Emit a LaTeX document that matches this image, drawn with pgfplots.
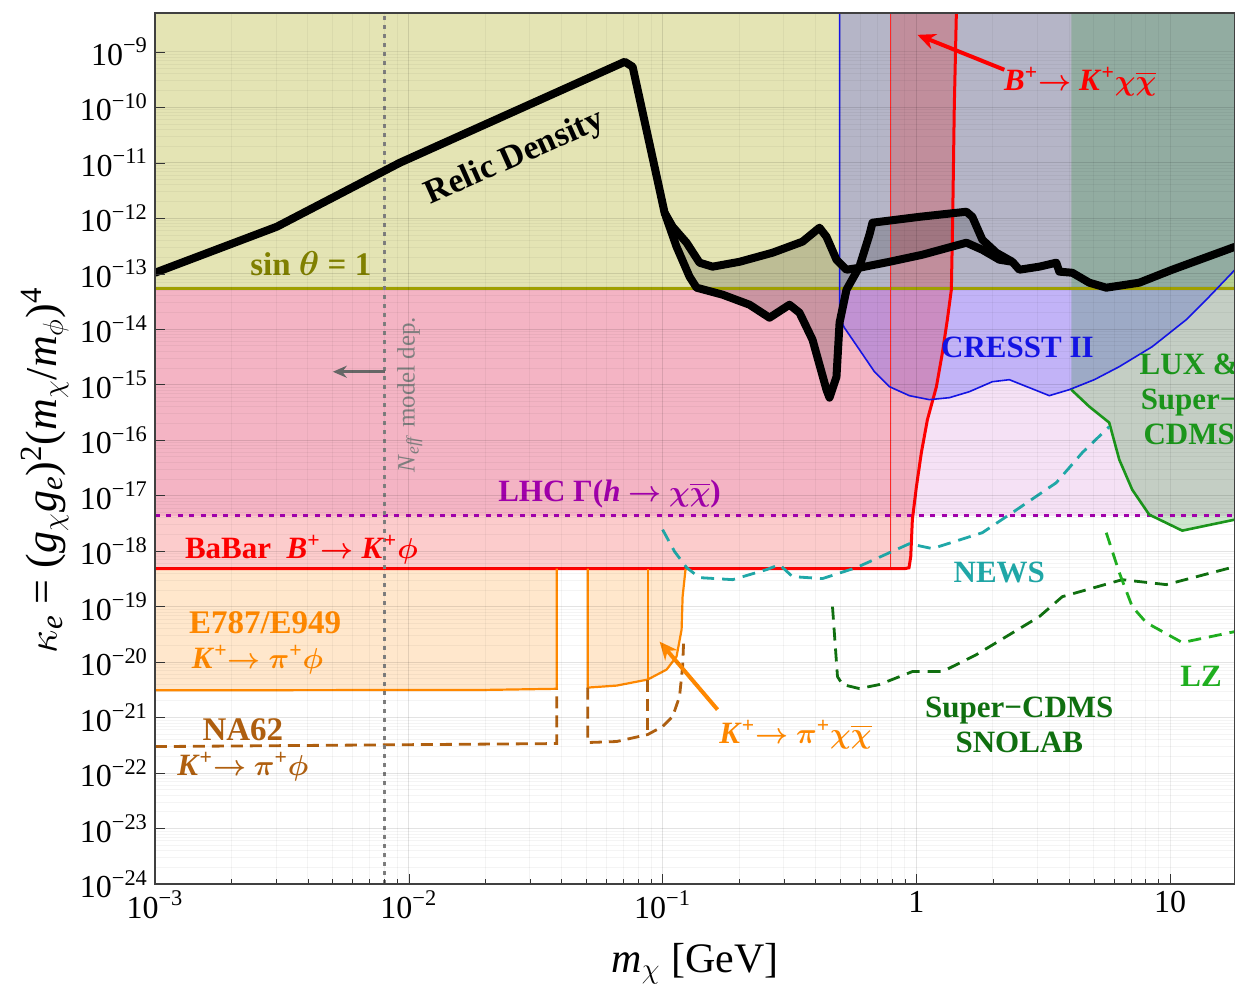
\documentclass[border=0pt]{standalone}
\usepackage{amsmath}
\usepackage{fontspec}
\setmainfont{Liberation Serif}
\usepackage{pgfplots}
\pgfplotsset{compat=1.18}
\usetikzlibrary{arrows.meta}
\definecolor{lhcfill}{RGB}{245,225,245}
\definecolor{yel}{RGB}{228,228,180}
\definecolor{olive2}{RGB}{160,160,0}
\definecolor{olivetext}{RGB}{128,128,0}
\definecolor{cblue}{RGB}{50,50,255}
\definecolor{cline}{RGB}{20,20,230}
\definecolor{orng}{RGB}{255,136,0}
\definecolor{brwn}{RGB}{176,96,16}
\definecolor{teal2}{RGB}{32,168,168}
\definecolor{dgreen}{RGB}{16,112,16}
\definecolor{lgreen}{RGB}{32,176,32}
\definecolor{purp}{RGB}{160,0,170}
\definecolor{redd}{RGB}{240,0,0}
\newcommand{\lab}{\fontsize{15.5}{17.5}\selectfont\bfseries}
\newcommand{\bs}[1]{$\boldsymbol{#1}$}
\newcommand{\arr}{$\boldsymbol{\rightarrow}$}
\newcommand{\chib}{$\boldsymbol{\chi}\overline{\boldsymbol{\chi}}$}
\begin{document}
\begin{tikzpicture}
\path[use as bounding box] (-77.5pt,-50pt) rectangle (540pt,442pt);
\begin{axis}[
  at={(0,0)}, anchor=south west,
  scale only axis, width=540pt, height=435.5pt,
  xmode=log, ymode=log,
  xmin=1e-3, xmax=18, ymin=1e-24, ymax=5e-9,
  axis on top,
  xtick={1e-3,1e-2,1e-1,1,10},
  xticklabels={10\textsuperscript{−3},10\textsuperscript{−2},10\textsuperscript{−1},1,10},
  ytick={1e-24,1e-23,1e-22,1e-21,1e-20,1e-19,1e-18,1e-17,1e-16,1e-15,1e-14,1e-13,1e-12,1e-11,1e-10,1e-9},
  yticklabels={10\textsuperscript{−24},10\textsuperscript{−23},10\textsuperscript{−22},10\textsuperscript{−21},10\textsuperscript{−20},10\textsuperscript{−19},10\textsuperscript{−18},10\textsuperscript{−17},10\textsuperscript{−16},10\textsuperscript{−15},10\textsuperscript{−14},10\textsuperscript{−13},10\textsuperscript{−12},10\textsuperscript{−11},10\textsuperscript{−10},10\textsuperscript{−9}},
  yminorticks=false,
  xtick pos=bottom, ytick pos=left,
  major tick length=5pt, minor tick length=2.5pt,
  tick style={black!80},
  axis line style={black!75, line width=0.6pt},
  grid=both, major grid style={black, opacity=0.07}, minor grid style={black, opacity=0.045},
  ticklabel style={font=\fontsize{16}{16}\selectfont},
  xlabel={\textit{m}\textsubscript{$\chi$} [GeV]},
  ylabel={$\kappa$\textsubscript{\textit{e}} = (\textit{g}\textsubscript{$\chi$}\textit{g}\textsubscript{\textit{e}})\textsuperscript{2}(\textit{m}\textsubscript{$\chi$}/\textit{m}\textsubscript{$\phi$})\textsuperscript{4}},
  xlabel style={font=\fontsize{21}{23}\selectfont, at={(axis description cs:0.5,-0.06)}, anchor=north},
  ylabel style={font=\fontsize{22}{24}\selectfont, at={(axis description cs:-0.102,0.475)}, anchor=center},
]
% LHC region
\addplot[draw=none, fill=lhcfill] coordinates {(1e-3,4.37e-18) (18,4.37e-18) (18,5e-9) (1e-3,5e-9)} -- cycle;
% BaBar B->K phi region
\addplot[draw=none, fill=redd, fill opacity=0.2] coordinates {(1e-3,4.84e-19) (0.79,4.84e-19) (0.79,5e-9) (1e-3,5e-9)} -- cycle;
% E787/E949 regions
\addplot[draw=none, fill=orng, fill opacity=0.2] coordinates {(1e-3,3.1e-21) (0.02,3.15e-21) (0.0383,3.3e-21) (0.0383,4.84e-19) (1e-3,4.84e-19)} -- cycle;
\addplot[draw=none, fill=orng, fill opacity=0.2] coordinates {(0.0507,3.47e-21) (0.0659,3.77e-21) (0.0873,4.84e-21) (0.1037,7.33e-21) (0.1135,1.26e-20) (0.1188,3.85e-20) (0.1199,1.51e-19) (0.1232,4.84e-19) (0.0507,4.84e-19)} -- cycle;
% sin theta = 1 region
\addplot[draw=none, fill=yel] coordinates {(1e-3,5.37e-14) (18,5.37e-14) (18,5e-9) (1e-3,5e-9)} -- cycle;
% CRESST II region
\addplot[draw=none, fill=cblue, fill opacity=0.26] coordinates {(0.498,5e-9) (0.498,1.61e-14) (0.5206,1.06e-14) (0.5965,4.27e-15) (0.6834,1.71e-15) (0.7829,9.2e-16) (0.938,6.34e-16) (1.125,5.37e-16) (1.349,5.83e-16) (1.617,7.48e-16) (1.991,1.13e-15) (2.323,1.23e-15) (2.786,8.83e-16) (3.339,6.34e-16) (4.004,8.13e-16) (5.022,1.23e-15) (6.298,2.11e-15) (8.494,4.84e-15) (11.56,1.48e-14) (14.24,3.85e-14) (18,1.18e-13) (18,5e-9)} -- cycle;
% B -> K chi chibar strip
\addplot[draw=none, fill=redd, fill opacity=0.21] coordinates {(0.79,4.84e-19) (0.90,4.84e-19) (0.935,5.0e-19) (0.95,8e-19) (0.964,3.7e-18) (1.0,1.45e-17) (1.046,5.96e-17) (1.105,2.34e-16) (1.199,9.2e-16) (1.266,3.78e-15) (1.324,1.48e-14) (1.373,5.15e-14) (1.39,1e-12) (1.41,1e-10) (1.437,5e-9) (0.79,5e-9)} -- cycle;
% LUX & SuperCDMS region
\addplot[draw=none, fill=lgreen!80!black, fill opacity=0.22] coordinates {(4.076,5e-9) (4.076,8.13e-16) (4.80,4.02e-16) (5.75,2.07e-16) (6.30,4.45e-17) (7.085,1.28e-17) (8.265,4.55e-18) (11.15,2.34e-18) (18,3.7e-18) (18,5e-9)} -- cycle;
% relic density band shading
\addplot[draw=none, fill=black, fill opacity=0.17] coordinates {(0.1018,1.26e-12) (0.1095,7.03e-13) (0.1243,3.62e-13) (0.1398,1.58e-13) (0.1574,1.34e-13) (0.2009,1.64e-13) (0.2711,2.39e-13) (0.3557,3.78e-13) (0.4150,6.75e-13) (0.4421,4.65e-13) (0.4842,1.79e-13) (0.5302,1.18e-13) (0.5965,1.28e-13) (0.7829,1.64e-13) (1.056,2.2e-13) (1.574,3.62e-13) (1.819,2.7e-13) (2.122,1.79e-13) (2.388,1.64e-13) (2.065,2.39e-13) (1.819,4.1e-13) (1.661,1.06e-12) (1.574,1.31e-12) (1.028,1.06e-12) (0.6712,8.3e-13) (0.6531,5.05e-13) (0.5965,1.34e-13) (0.5302,5.15e-14) (0.498,1.31e-14) (0.4842,1.39e-15) (0.4545,5.83e-16) (0.4421,8.13e-16) (0.3897,6.47e-15) (0.3463,1.98e-14) (0.3162,2.76e-14) (0.2638,1.61e-14) (0.2201,2.76e-14) (0.1723,4.19e-14) (0.1361,5.6e-14) (0.1277,8.83e-14) (0.1135,3.06e-13)} -- cycle;
% boundary lines
\addplot[olive2, line width=1.5pt] coordinates {(1e-3,5.37e-14) (18,5.37e-14)};
\addplot[purp, line width=1.6pt, dash pattern=on 2.5pt off 3.2pt] coordinates {(1e-3,4.37e-18) (18,4.37e-18)};
\addplot[red!85!white, line width=0.5pt] coordinates {(0.79,5.0e-19) (0.79,5e-9)};
\addplot[red, line width=1.5pt] coordinates {(1e-3,4.84e-19) (0.90,4.84e-19) (0.935,5.0e-19) (0.95,8e-19) (0.964,3.7e-18) (1.0,1.45e-17) (1.046,5.96e-17) (1.105,2.34e-16) (1.199,9.2e-16) (1.266,3.78e-15) (1.324,1.48e-14) (1.373,5.15e-14) (1.39,1e-12) (1.41,1e-10) (1.437,5e-9)};
\addplot[cline, line width=0.8pt] coordinates {(0.498,5e-9) (0.498,1.61e-14) (0.5206,1.06e-14) (0.5965,4.27e-15) (0.6834,1.71e-15) (0.7829,9.2e-16) (0.938,6.34e-16) (1.125,5.37e-16) (1.349,5.83e-16) (1.617,7.48e-16) (1.991,1.13e-15) (2.323,1.23e-15) (2.786,8.83e-16) (3.339,6.34e-16) (4.004,8.13e-16) (5.022,1.23e-15) (6.298,2.11e-15) (8.494,4.84e-15) (11.56,1.48e-14) (14.24,3.85e-14) (18,1.18e-13)};
\addplot[lgreen!85!black, line width=1.3pt] coordinates {(4.076,8.13e-16) (4.80,4.02e-16) (5.75,2.07e-16) (6.30,4.45e-17) (7.085,1.28e-17) (8.265,4.55e-18) (11.15,2.34e-18) (18,3.7e-18)};
% E787 / E949 lines
\addplot[orng, line width=1.1pt] coordinates {(1e-3,3.1e-21) (0.02,3.15e-21) (0.0383,3.3e-21) (0.0383,4.84e-19)};
\addplot[orng, line width=1.1pt] coordinates {(0.0507,4.84e-19) (0.0507,3.47e-21) (0.0659,3.77e-21) (0.0873,4.84e-21) (0.1037,7.33e-21) (0.1135,1.26e-20) (0.1188,3.85e-20) (0.1199,1.51e-19) (0.1232,4.84e-19)};
\addplot[orng, line width=1.1pt] coordinates {(0.0873,4.84e-21) (0.0873,4.84e-19)};
% NA62 projections
\addplot[brwn, line width=1.4pt, dash pattern=on 6pt off 3.5pt] coordinates {(1e-3,3.0e-22) (0.0383,3.4e-22) (0.0383,3.3e-21)};
\addplot[brwn, line width=1.4pt, dash pattern=on 6pt off 3.5pt] coordinates {(0.0507,3.47e-21) (0.0507,3.55e-22) (0.0659,3.7e-22) (0.0873,4.94e-22) (0.1,6.89e-22) (0.1095,1.04e-21) (0.1166,2.39e-21) (0.1199,8.3e-21) (0.121,2.25e-20)};
\addplot[brwn, line width=1.4pt, dash pattern=on 6pt off 3.5pt] coordinates {(0.0873,4.84e-21) (0.0873,4.94e-22)};
% NEWS
\addplot[teal2, line width=1.4pt, dash pattern=on 6.5pt off 4pt] coordinates {(0.1,2.44e-18) (0.1115,9.8e-19) (0.1243,5.05e-19) (0.1398,3.33e-19) (0.1887,3.06e-19) (0.2567,4.64e-19) (0.2888,5.71e-19) (0.3249,3.47e-19) (0.4265,3.2e-19) (0.5805,5.05e-19) (0.938,1.36e-18) (1.156,1.11e-18) (1.819,2.15e-18) (2.388,4.94e-18) (3.557,1.71e-17) (4.504,5.96e-17) (5.75,1.75e-16)};
% SuperCDMS SNOLAB
\addplot[dgreen, line width=1.4pt, dash pattern=on 6.5pt off 4pt] coordinates {(0.467,1e-19) (0.4887,5.48e-21) (0.5114,3.94e-21) (0.5965,3.33e-21) (0.715,3.94e-21) (0.964,6.74e-21) (1.266,6.74e-21) (1.722,1.36e-20) (3.05,6.6e-20) (3.757,1.51e-19) (6.471,3.06e-19) (9.646,2.49e-19) (18,5.26e-19)};
% LZ
\addplot[lgreen, line width=1.4pt, dash pattern=on 6.5pt off 4pt] coordinates {(5.598,2.15e-18) (6.30,4.1e-19) (7.085,1e-19) (8.045,5.15e-20) (11.15,2.25e-20) (18,3.55e-20)};
% N_eff line
\addplot[black!50, line width=1.5pt, dash pattern=on 2pt off 2.5pt] coordinates {(0.00804,1e-24) (0.00804,5e-9)};
% relic density curves
\addplot[black, line width=4pt, line join=round] coordinates {(1e-3,1.04e-13) (3.02e-3,7.03e-13) (9.22e-3,1e-11) (0.0709,6.6e-10) (0.0762,5.37e-10) (0.0973,3.27e-12) (0.1018,1.26e-12) (0.1095,7.03e-13) (0.1243,3.62e-13) (0.1398,1.58e-13) (0.1574,1.34e-13) (0.2009,1.64e-13) (0.2711,2.39e-13) (0.3557,3.78e-13) (0.4150,6.75e-13) (0.4421,4.65e-13) (0.4842,1.79e-13) (0.5302,1.18e-13) (0.5965,1.28e-13) (0.7829,1.64e-13) (1.056,2.2e-13) (1.574,3.62e-13) (1.819,2.7e-13) (2.122,1.79e-13) (2.388,1.64e-13) (2.544,1.18e-13) (3.05,1.34e-13) (3.557,1.58e-13) (3.656,1.09e-13) (4.113,1.04e-13) (4.80,6.89e-14) (5.598,5.6e-14) (7.551,6.89e-14) (10.18,1.18e-13) (18,3.06e-13)};
\addplot[black, line width=4pt, line join=round] coordinates {(0.1018,1.26e-12) (0.1135,3.06e-13) (0.1277,8.83e-14) (0.1361,5.6e-14) (0.1723,4.19e-14) (0.2201,2.76e-14) (0.2638,1.61e-14) (0.3162,2.76e-14) (0.3463,1.98e-14) (0.3897,6.47e-15) (0.4421,8.13e-16) (0.4545,5.83e-16) (0.4842,1.39e-15) (0.498,1.31e-14) (0.5302,5.15e-14) (0.5965,1.34e-13) (0.6531,5.05e-13) (0.6712,8.3e-13) (1.028,1.06e-12) (1.574,1.31e-12) (1.661,1.06e-12) (1.819,4.1e-13) (2.065,2.39e-13) (2.388,1.64e-13)};
% labels
\node[font=\fontsize{17}{19}\selectfont\bfseries, rotate=24] at (axis cs:0.0262,1.2e-11) {Relic Density};
\node[font=\fontsize{16.5}{18}\selectfont\bfseries, text=olivetext] at (axis cs:4.11e-3,1.51e-13) {sin \bs{\theta} = 1};
\node[font=\lab, text=cline] at (axis cs:2.50,4.65e-15) {CRESST II};
\node[font=\lab, text=lgreen!85!black, align=center] at (axis cs:11.88,5.37e-16) {LUX \&\\Super−\\CDMS};
\node[font=\lab, text=purp] at (axis cs:0.0618,1.09e-17) {LHC Γ(\textit{h} \arr\ \chib)};
\node[font=\lab, text=red, anchor=west] at (axis cs:1.232e-3,1.06e-18) {BaBar\ \ \textit{B}\textsuperscript{+}\arr\ \textit{K}\textsuperscript{+}\bs{\phi}};
\node[font=\fontsize{16.5}{18}\selectfont\bfseries, text=orng, anchor=west] at (axis cs:1.277e-3,5.15e-20) {E787/E949};
\node[font=\lab, text=orng, anchor=west] at (axis cs:1.312e-3,1.11e-20) {\textit{K}\textsuperscript{+}\arr\ \bs{\pi}\textsuperscript{+}\bs{\phi}};
\node[font=\fontsize{16.5}{18}\selectfont\bfseries, text=brwn] at (axis cs:2.22e-3,6.08e-22) {NA62};
\node[font=\lab, text=brwn] at (axis cs:2.22e-3,1.31e-22) {\textit{K}\textsuperscript{+}\arr\ \bs{\pi}\textsuperscript{+}\bs{\phi}};
\node[font=\lab, text=orng] at (axis cs:0.334,4.94e-22) {\textit{K}\textsuperscript{+}\arr\ \bs{\pi}\textsuperscript{+}\chib};
\node[font=\lab, text=teal2] at (axis cs:2.122,4.1e-19) {NEWS};
\node[font=\lab, text=dgreen, align=center] at (axis cs:2.544,7.48e-22) {Super−CDMS\\SNOLAB};
\node[font=\lab, text=lgreen] at (axis cs:13.24,5.48e-21) {LZ};
\node[font=\lab, text=red] at (axis cs:4.42,2.88e-10) {\textit{B}\textsuperscript{+}\arr\ \textit{K}\textsuperscript{+}\chib};
\node[font=\fontsize{12.5}{14}\selectfont, text=black!50, rotate=90] at (axis cs:0.01009,6.6e-16) {\textit{N}\textsubscript{\textit{eff}} model dep.};
\draw[red, line width=2pt, -{Stealth[length=9pt,width=8pt]}] (axis cs:2.22,4.74e-10) -- (axis cs:1.009,2.02e-9);
\draw[orng, line width=2pt, -{Stealth[length=9pt,width=8pt]}] (axis cs:0.1646,1.39e-21) -- (axis cs:0.0973,2.34e-20);
\draw[black!60, line width=1.3pt, -{Stealth[length=7pt,width=6pt]}] (axis cs:0.00804,1.71e-15) -- (axis cs:5.02e-3,1.71e-15);
\end{axis}
\end{tikzpicture}
\end{document}
